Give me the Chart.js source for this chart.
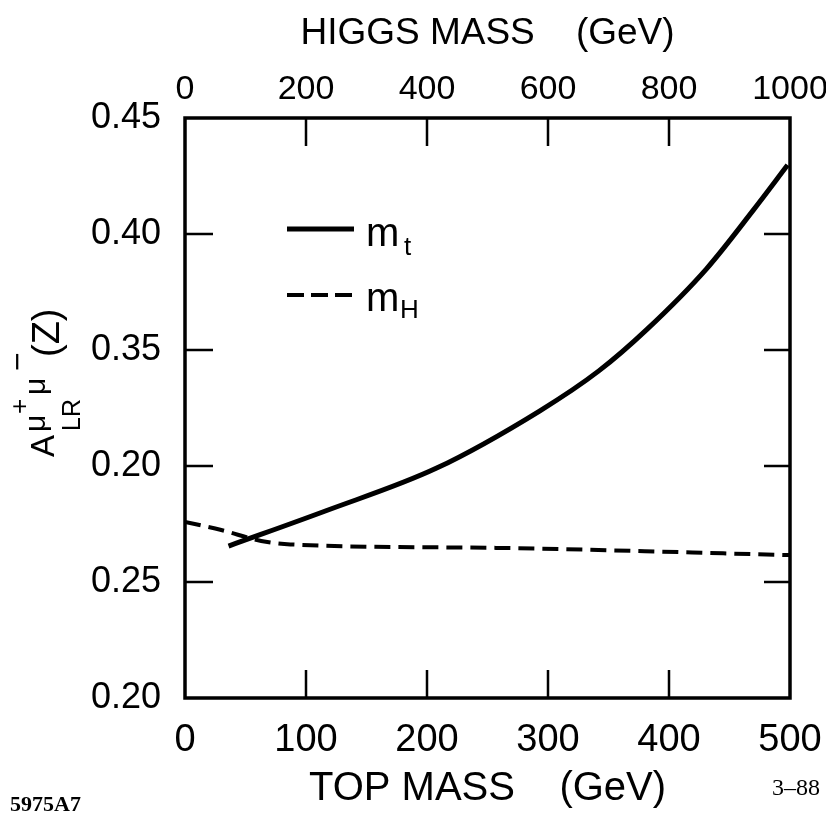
<!DOCTYPE html>
<html>
<head>
<meta charset="utf-8">
<script src="https://cdn.jsdelivr.net/npm/chart.js@4"></script>
<style>
  html, body { margin: 0; padding: 0; background: #fff; }
  #wrap { width: 826px; height: 814px; position: relative; }
</style>
</head>
<body>
<div id="wrap"><canvas id="chart"></canvas></div>
<script>
// A_LR^{mu+mu-}(Z) vs top mass (solid) and Higgs mass (dashed).
const TOP_MASS = [36, 116, 208, 293, 342, 382, 431, 470, 498];
const A_VS_TOP = [0.2655, 0.2806, 0.2991, 0.3237, 0.341, 0.359, 0.385, 0.4105, 0.4297];

const HIGGS_MASS = [0, 60, 126, 174, 514, 1000];
const A_VS_HIGGS = [0.2759, 0.2724, 0.2677, 0.2662, 0.2647, 0.2616];

// printed tick labels, bottom to top (the original prints 0.20 where 0.30 belongs)
const Y_TICK_LABELS = ['0.20', '0.25', '0.20', '0.35', '0.40', '0.45'];
const TOP_TICK_LABELS = ['0', '100', '200', '300', '400', '500'];
const HIGGS_TICK_LABELS = ['0', '200', '400', '600', '800', '1000'];

const BOTTOM_TITLE = 'TOP MASS    (GeV)';
const TOP_TITLE = 'HIGGS MASS    (GeV)';
const LEGEND_TOP = ['m', 't'];
const LEGEND_HIGGS = ['m', 'H'];
const NOTE_LEFT = '5975A7';
const NOTE_RIGHT = '3\u201388';

const SANS = '"Liberation Sans", Arial, Helvetica, sans-serif';
const SERIF = '"Liberation Serif", "Times New Roman", serif';
const INK = '#000';

function pairs(xs, ys) {
    return xs.map((x, i) => ({ x, y: ys[i] }));
}

const framePlugin = {
    id: 'frame',
    afterDatasetsDraw(chart) {
        const { ctx, chartArea: a, scales } = chart;
        ctx.save();
        ctx.strokeStyle = INK;
        ctx.lineWidth = 3.5;
        ctx.strokeRect(a.left, a.top, a.right - a.left, a.bottom - a.top);

        // inward tick marks
        ctx.lineWidth = 2.5;
        ctx.beginPath();
        scales.y.ticks.forEach((t, i, arr) => {
            if (i === 0 || i === arr.length - 1) return;
            const py = scales.y.getPixelForValue(t.value);
            ctx.moveTo(a.left, py); ctx.lineTo(a.left + 28, py);
            ctx.moveTo(a.right, py); ctx.lineTo(a.right - 26, py);
        });
        scales.x.ticks.forEach((t, i, arr) => {
            if (i === 0 || i === arr.length - 1) return;
            const px = scales.x.getPixelForValue(t.value);
            ctx.moveTo(px, a.bottom); ctx.lineTo(px, a.bottom - 28);
        });
        scales.x2.ticks.forEach((t, i, arr) => {
            if (i === 0 || i === arr.length - 1) return;
            const px = scales.x2.getPixelForValue(t.value);
            ctx.moveTo(px, a.top); ctx.lineTo(px, a.top + 28);
        });
        ctx.stroke();
        ctx.restore();
    },
    afterDraw(chart) {
        const { ctx } = chart;
        ctx.save();
        ctx.fillStyle = INK;
        ctx.strokeStyle = INK;

        // legend
        ctx.lineWidth = 5;
        ctx.beginPath();
        ctx.moveTo(287, 229); ctx.lineTo(354, 229);
        ctx.stroke();
        ctx.lineWidth = 4;
        ctx.setLineDash([17, 7]);
        ctx.beginPath();
        ctx.moveTo(287, 295); ctx.lineTo(354, 295);
        ctx.stroke();
        ctx.setLineDash([]);

        ctx.textBaseline = 'alphabetic';
        ctx.textAlign = 'left';
        ctx.font = '40px ' + SANS;
        ctx.fillText(LEGEND_TOP[0], 366, 246);
        ctx.fillText(LEGEND_HIGGS[0], 366, 311);
        ctx.font = '26px ' + SANS;
        ctx.fillText(LEGEND_TOP[1], 404, 255);
        ctx.fillText(LEGEND_HIGGS[1], 400, 318);

        // rotated y-axis label: A_LR^{mu+ mu-}(Z)
        ctx.translate(54, 457);
        ctx.rotate(-Math.PI / 2);
        ctx.font = '33px ' + SANS;
        ctx.fillText('A', 0, 0);
        ctx.font = '25px ' + SANS;
        ctx.fillText('LR', 26, 26);
        ctx.font = '30px ' + SANS;
        ctx.fillText('\u03bc', 25, -9);
        ctx.fillText('\u03bc', 62, -9);
        ctx.font = '26px ' + SANS;
        ctx.fillText('+', 43, -26);
        ctx.font = '32px ' + SANS;
        ctx.fillText('\u2212', 86, -26);
        ctx.font = '38px ' + SANS;
        ctx.fillText('(Z)', 100, 5);
        ctx.setTransform(1, 0, 0, 1, 0, 0);

        // figure codes
        ctx.font = 'bold 22px ' + SERIF;
        ctx.textBaseline = 'middle';
        ctx.fillText(NOTE_LEFT, 10, 805);
        ctx.font = '24px ' + SERIF;
        ctx.fillText(NOTE_RIGHT, 772, 789);
        ctx.restore();
    },
};

function fixHorizontal(height) {
    return (s) => {
        s.height = height;
        s.paddingLeft = 0;
        s.paddingRight = 0;
    };
}

new Chart(document.getElementById('chart'), {
    type: 'line',
    data: {
        datasets: [
            {
                label: 'm_t',
                data: pairs(TOP_MASS, A_VS_TOP),
                xAxisID: 'x',
                yAxisID: 'y',
                borderColor: INK,
                borderWidth: 5,
                pointRadius: 0,
                fill: false,
                cubicInterpolationMode: 'monotone',
            },
            {
                label: 'm_H',
                data: pairs(HIGGS_MASS, A_VS_HIGGS),
                xAxisID: 'x2',
                yAxisID: 'y',
                borderColor: INK,
                borderWidth: 4,
                borderDash: [16, 8],
                pointRadius: 0,
                fill: false,
                cubicInterpolationMode: 'monotone',
            },
        ],
    },
    options: {
        responsive: true,
        maintainAspectRatio: false,
        animation: false,
        layout: { padding: { left: 0, right: 36, top: 0, bottom: 0 } },
        plugins: { legend: { display: false }, tooltip: { enabled: false } },
        scales: {
            x: {
                type: 'linear',
                position: 'bottom',
                min: 0, max: 500,
                grid: { display: false, drawTicks: false },
                border: { display: false },
                ticks: {
                    stepSize: 100,
                    color: INK,
                    padding: 20,
                    maxRotation: 0,
                    font: { family: SANS, size: 38 },
                    callback: (v, i) => TOP_TICK_LABELS[i],
                },
                title: {
                    display: true, text: BOTTOM_TITLE, color: INK,
                    font: { family: SANS, size: 40 },
                    padding: { top: 0, bottom: 1 },
                },
                afterFit: fixHorizontal(116),
            },
            x2: {
                type: 'linear',
                position: 'top',
                min: 0, max: 1000,
                grid: { display: false, drawTicks: false },
                border: { display: false },
                ticks: {
                    stepSize: 200,
                    color: INK,
                    padding: 8,
                    maxRotation: 0,
                    font: { family: SANS, size: 34 },
                    callback: (v, i) => HIGGS_TICK_LABELS[i],
                },
                title: {
                    display: true, text: TOP_TITLE, color: INK,
                    font: { family: SANS, size: 37 },
                    padding: { top: 12, bottom: 0 },
                },
                afterFit: fixHorizontal(118),
            },
            y: {
                type: 'linear',
                min: 0.20, max: 0.45,
                grid: { display: false, drawTicks: false },
                border: { display: false },
                ticks: {
                    stepSize: 0.05,
                    color: INK,
                    padding: 24,
                    font: { family: SANS, size: 36 },
                    callback: (v, i) => Y_TICK_LABELS[i],
                },
                afterFit: (s) => {
                    s.width = 185;
                    s.paddingTop = 0;
                    s.paddingBottom = 0;
                },
            },
        },
    },
    plugins: [framePlugin],
});
</script>
</body>
</html>
